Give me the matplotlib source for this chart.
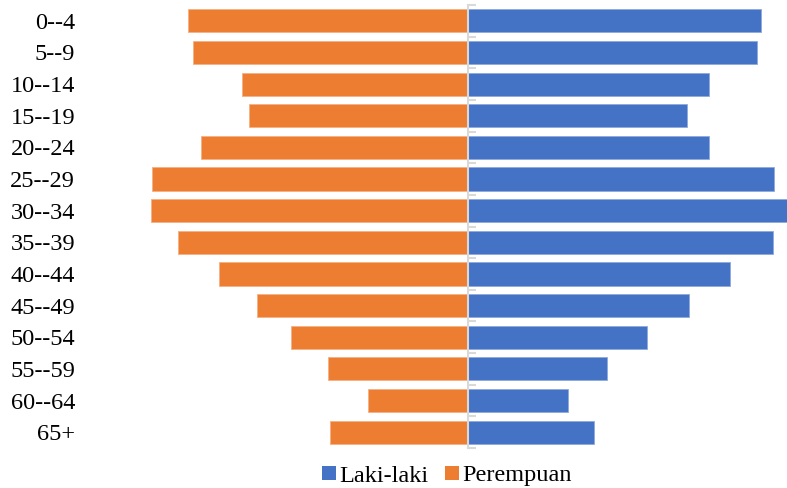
import matplotlib
matplotlib.use("Agg")
import matplotlib.pyplot as plt
from matplotlib.patches import Patch
import numpy as np

age_groups = ["0--4", "5--9", "10--14", "15--19", "20--24", "25--29", "30--34",
              "35--39", "40--44", "45--49", "50--54", "55--59", "60--64", "65+"]
laki_laki = [293, 289, 241, 219, 241, 306, 319, 305, 262, 221, 179, 139, 100, 126]
perempuan = [280, 275, 226, 219, 267, 316, 317, 290, 249, 211, 177, 140, 100, 138]

blue = "#4472C4"
orange = "#ED7D31"

plt.rcParams['font.family'] = ['Liberation Serif', 'DejaVu Serif']

fig = plt.figure(figsize=(7.87, 4.88), dpi=100)
ax = fig.add_axes([149/787, 1 - 448/488, 1 - 149/787, 443/488])

y = np.arange(len(age_groups))
ax.barh(y, laki_laki, height=0.73, color=blue, edgecolor="#8faadc", linewidth=0.6, zorder=2)
ax.barh(y, [-v for v in perempuan], height=0.73, color=orange, edgecolor="#f4b183", linewidth=0.6, zorder=2)

ax.set_xlim(-319, 319)
ax.set_ylim(len(age_groups) - 0.5, -0.5)

for s in ['top', 'right', 'bottom']:
    ax.spines[s].set_visible(False)
ax.spines['left'].set_position(('data', 0))
ax.spines['left'].set_color('#d9d9d9')
ax.spines['left'].set_linewidth(1.5)
ax.spines['left'].set_zorder(3)
ax.set_xticks([])
ax.set_yticks(np.arange(len(age_groups) + 1) - 0.5)
ax.tick_params(axis='y', direction='in', length=6, width=1.5, color='#d9d9d9', labelleft=False)

tr = matplotlib.transforms.blended_transform_factory(fig.transFigure, ax.transData)
for i, lab in enumerate(age_groups):
    ax.text(75/787, i, lab, transform=tr, ha='right', va='center_baseline', fontsize=17.5, color='#000000')

handles = [Patch(facecolor=blue, label='Laki-laki'), Patch(facecolor=orange, label='Perempuan')]
fig.legend(handles=handles, loc='center', bbox_to_anchor=(0.568, 1 - 476/488), ncol=2, frameon=False,
           fontsize=17.5, handlelength=0.55, handleheight=0.55, handletextpad=0.15, columnspacing=0.7)

fig.savefig("out.png", dpi=100)
